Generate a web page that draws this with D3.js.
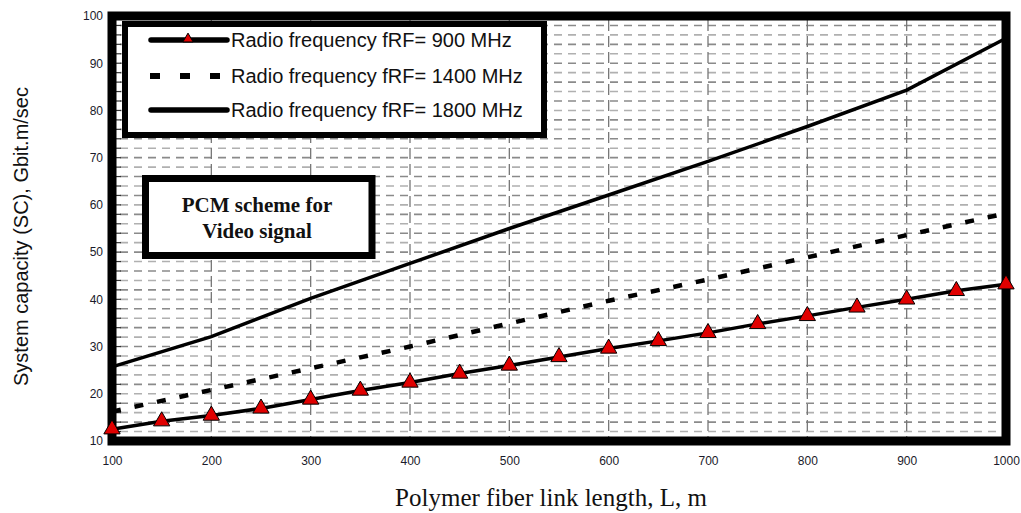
<!DOCTYPE html>
<html>
<head>
<meta charset="utf-8">
<script src="https://cdn.jsdelivr.net/npm/d3@7"></script>
<style>
  body { margin: 0; background: #fff; }
  svg { display: block; }
</style>
</head>
<body>
<div id="chart"></div>
<script>
// values
let lengths900 = [100, 150, 200, 250, 300, 350, 400, 450, 500, 550, 600, 650, 700, 750, 800, 850, 900, 950, 1000];
let cap900 = [12.5, 14.2, 15.4, 16.9, 18.8, 20.7, 22.4, 24.3, 26.0, 27.8, 29.6, 31.2, 32.9, 34.8, 36.5, 38.3, 40.0, 41.8, 43.2];
let lengths = [100, 200, 300, 400, 500, 600, 700, 800, 900, 1000];
let cap1400 = [16.2, 20.8, 25.4, 30.0, 34.9, 39.7, 44.2, 48.9, 53.6, 58.2];
let cap1800 = [25.7, 32.1, 40.2, 47.6, 55.0, 62.1, 69.2, 76.6, 84.3, 95.3];
let xTicks = [100, 200, 300, 400, 500, 600, 700, 800, 900, 1000];
let yTicks = [10, 20, 30, 40, 50, 60, 70, 80, 90, 100];
let legendLabels = ["Radio frequency fRF= 900 MHz", "Radio frequency fRF= 1400 MHz", "Radio frequency fRF= 1800 MHz"];
let noteLines = ["PCM scheme for", "Video signal"];

const width = 1021, height = 513;
const plot = { left: 112, right: 1006, top: 16, bottom: 441 };

let svg = d3.select("#chart")
    .append("svg")
    .attr("width", width)
    .attr("height", height);

let x = d3.scaleLinear().domain([100, 1000]).range([plot.left, plot.right]);
let y = d3.scaleLinear().domain([10, 100]).range([plot.bottom, plot.top]);

// grid
let grid = svg.append("g");
grid.selectAll(".hgrid")
    .data(d3.range(12, 100, 2))
    .enter()
    .append("line")
    .attr("x1", plot.left + 8)
    .attr("x2", plot.right - 4)
    .attr("y1", d => y(d))
    .attr("y2", d => y(d))
    .attr("stroke", (d, i) => i % 2 ? "#8a8a8a" : "#b0b0b0")
    .attr("stroke-width", 1.6)
    .attr("stroke-dasharray", "8,6");

grid.selectAll(".vgrid")
    .data(xTicks.slice(1, -1))
    .enter()
    .append("line")
    .attr("x1", d => x(d))
    .attr("x2", d => x(d))
    .attr("y1", plot.top + 4)
    .attr("y2", plot.bottom - 4)
    .attr("stroke", "#777")
    .attr("stroke-width", 1.3)
    .attr("stroke-dasharray", "11,5");

// small inward ticks on the left side
grid.selectAll(".ltick")
    .data(d3.range(12, 100, 2))
    .enter()
    .append("line")
    .attr("x1", plot.left + 4)
    .attr("x2", plot.left + 9)
    .attr("y1", d => y(d))
    .attr("y2", d => y(d))
    .attr("stroke", "#333")
    .attr("stroke-width", 1.2);

// series
let line = d3.line()
    .x(d => x(d[0]))
    .y(d => y(d[1]));

svg.append("path")
    .datum(d3.zip(lengths, cap1800))
    .attr("d", line)
    .attr("fill", "none")
    .attr("stroke", "#000")
    .attr("stroke-width", 3.5);

svg.append("path")
    .datum(d3.zip(lengths, cap1400))
    .attr("d", line)
    .attr("fill", "none")
    .attr("stroke", "#000")
    .attr("stroke-width", 4.5)
    .attr("stroke-dasharray", "9,14");

svg.append("path")
    .datum(d3.zip(lengths900, cap900))
    .attr("d", line)
    .attr("fill", "none")
    .attr("stroke", "#000")
    .attr("stroke-width", 3.5);

// frame
svg.append("rect")
    .attr("x", plot.left)
    .attr("y", plot.top)
    .attr("width", plot.right - plot.left)
    .attr("height", plot.bottom - plot.top)
    .attr("fill", "none")
    .attr("stroke", "#000")
    .attr("stroke-width", 9);

let tri = d3.symbol().type(d3.symbolTriangle).size(115);
svg.selectAll(".marker")
    .data(d3.zip(lengths900, cap900))
    .enter()
    .append("path")
    .attr("d", tri)
    .attr("transform", d => `translate(${x(d[0])}, ${y(d[1])})`)
    .attr("fill", "#e00000")
    .attr("stroke", "#000")
    .attr("stroke-width", 1);

// axes
let yAxis = svg.append("g")
    .attr("transform", `translate(${plot.left}, 0)`)
    .call(d3.axisLeft(y).tickValues(yTicks).tickSize(0).tickPadding(9));
let xAxis = svg.append("g")
    .attr("transform", `translate(0, ${plot.bottom})`)
    .call(d3.axisBottom(x).tickValues(xTicks).tickFormat(d3.format("d")).tickSize(0).tickPadding(15));
[yAxis, xAxis].forEach(function(a) {
    a.select(".domain").remove();
    a.selectAll("text")
        .style("font-family", "Liberation Sans, Arial, sans-serif")
        .style("font-size", "12px")
        .attr("fill", "#1a1a2a");
});

svg.append("text")
    .attr("transform", `translate(28, ${(plot.top + plot.bottom) / 2 + 8}) rotate(-90)`)
    .style("text-anchor", "middle")
    .style("font-family", "Liberation Sans, Arial, sans-serif")
    .style("font-size", "20px")
    .attr("fill", "#111")
    .text("System capacity (SC), Gbit.m/sec");

svg.append("text")
    .attr("x", 551)
    .attr("y", 506)
    .style("text-anchor", "middle")
    .style("font-family", "Liberation Serif, Times New Roman, serif")
    .style("font-size", "25px")
    .attr("fill", "#111")
    .text("Polymer fiber link length, L, m");

// legend
let legend = svg.append("g");
legend.append("rect")
    .attr("x", 125)
    .attr("y", 24)
    .attr("width", 419)
    .attr("height", 111)
    .attr("fill", "#fff")
    .attr("stroke", "#000")
    .attr("stroke-width", 6);

let rowY = [40, 76, 110];
legend.append("line")
    .attr("x1", 151).attr("x2", 227)
    .attr("y1", rowY[0]).attr("y2", rowY[0])
    .attr("stroke", "#000").attr("stroke-width", 5.5)
    .attr("stroke-linecap", "round");
legend.append("path")
    .attr("d", d3.symbol().type(d3.symbolTriangle).size(45))
    .attr("transform", `translate(188, ${rowY[0] - 1})`)
    .attr("fill", "#e00000")
    .attr("stroke", "#000")
    .attr("stroke-width", 1);
legend.append("line")
    .attr("x1", 150).attr("x2", 230)
    .attr("y1", rowY[1]).attr("y2", rowY[1])
    .attr("stroke", "#000").attr("stroke-width", 6)
    .attr("stroke-dasharray", "10,20");
legend.append("line")
    .attr("x1", 151).attr("x2", 227)
    .attr("y1", rowY[2]).attr("y2", rowY[2])
    .attr("stroke", "#000").attr("stroke-width", 5.5)
    .attr("stroke-linecap", "round");

legend.selectAll(".label")
    .data(legendLabels)
    .enter()
    .append("text")
    .attr("x", 231)
    .attr("y", (d, i) => rowY[i] + 7)
    .style("font-family", "Liberation Sans, Arial, sans-serif")
    .style("font-size", "20px")
    .attr("fill", "#111")
    .text(d => d);

// note box
let note = svg.append("g");
note.append("rect")
    .attr("x", 145.5)
    .attr("y", 178.5)
    .attr("width", 226.5)
    .attr("height", 77)
    .attr("fill", "#fff")
    .attr("stroke", "#000")
    .attr("stroke-width", 7);
note.selectAll("text")
    .data(noteLines)
    .enter()
    .append("text")
    .attr("x", 257)
    .attr("y", (d, i) => 212 + i * 26)
    .style("text-anchor", "middle")
    .style("font-family", "Liberation Serif, Times New Roman, serif")
    .style("font-weight", "bold")
    .style("font-size", "21px")
    .attr("fill", "#111")
    .text(d => d);
</script>
</body>
</html>
